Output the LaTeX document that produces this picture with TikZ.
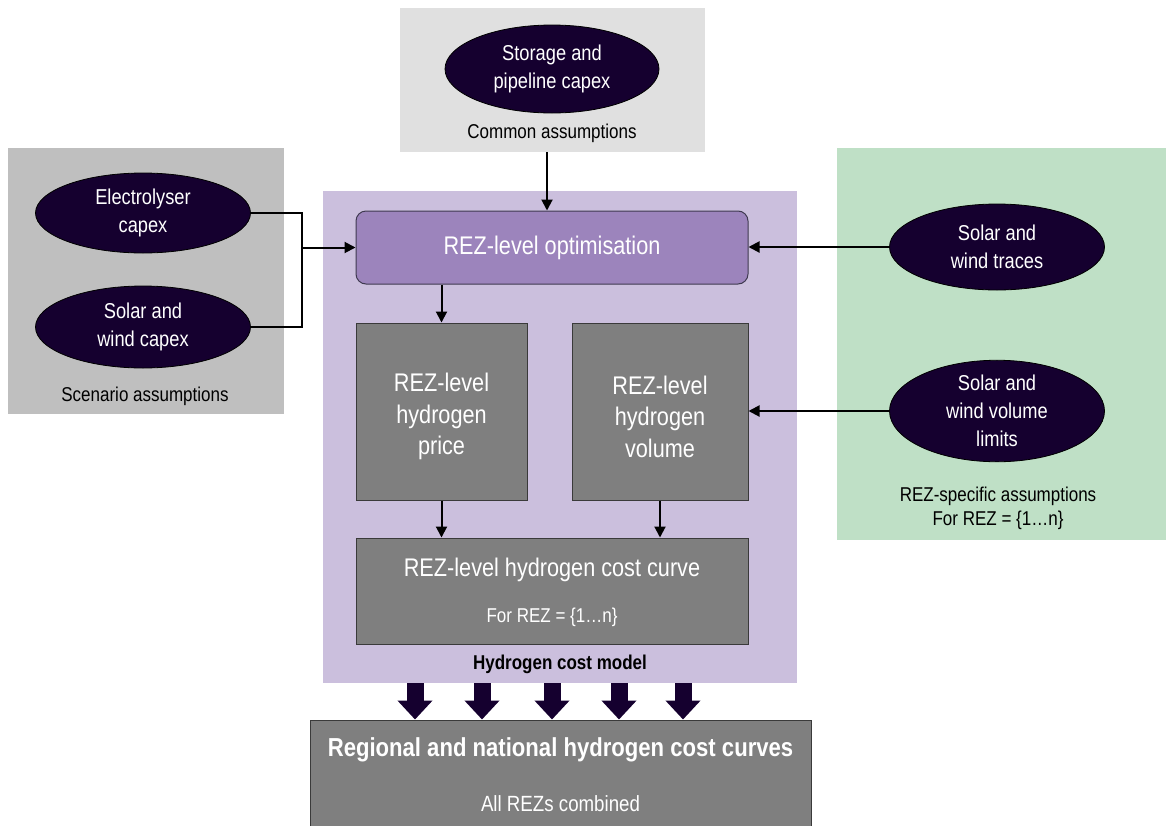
\documentclass[tikz,border=0pt]{standalone}
\usepackage{fontspec}
\setmainfont{Liberation Sans}[FakeStretch=0.85]
\usetikzlibrary{shapes.geometric,arrows.meta}
\definecolor{ellfill}{HTML}{15002F}
\definecolor{optfill}{HTML}{9C84BC}
\definecolor{optdraw}{HTML}{3F3A50}
\definecolor{panelpurple}{HTML}{CBBFDD}
\definecolor{boxgray}{HTML}{7F7F7F}
\definecolor{boxdraw}{HTML}{3A3A3A}
\definecolor{commongray}{HTML}{E0E0E0}
\definecolor{scengray}{HTML}{BFBFBF}
\definecolor{rezgreen}{HTML}{BFE0C6}
\begin{document}
\begin{tikzpicture}[x=1pt,y=-1pt,
  panel/.style={draw=none,inner sep=0pt,outer sep=0pt},
  ell/.style={ellipse,draw=black,line width=0.8pt,fill=ellfill,text=white,align=center,inner sep=0pt,
    font=\fontsize{21.5}{28}\selectfont},
  graybox/.style={draw=boxdraw,line width=1pt,fill=boxgray,inner sep=0pt},
  optbox/.style={draw=optdraw,line width=1pt,fill=optfill,text=white,rounded corners=10pt,inner sep=0pt,
    font=\fontsize{25.5}{31}\selectfont},
  lbl/.style={align=center,inner sep=0pt,font=\fontsize{20}{24}\selectfont},
  wlbl/.style={align=center,inner sep=0pt,text=white},
  conn/.style={draw=black,line width=2pt},
  arr/.style={conn,-{Triangle[width=11pt,length=11pt]}},
  fatarr/.style={draw=ellfill,line width=17pt,-{Triangle[width=34pt,length=19pt]}}
]
\useasboundingbox (0,0) rectangle (1166,825);
\clip (0,0) rectangle (1166,825);

% background panels
\node[panel,fill=commongray,minimum width=305,minimum height=144] (common) at (552.5,80) {};
\node[panel,fill=scengray,minimum width=276,minimum height=266] (scen) at (146,281) {};
\node[panel,fill=rezgreen,minimum width=330,minimum height=392] (rez) at (1002,344) {};
\node[panel,fill=panelpurple,minimum width=474,minimum height=492] (hcm) at (560,437) {};

% ellipses
\node[ell,minimum width=214,minimum height=88] (storage) at (552,69) {Storage and\\pipeline capex};
\node[ell,minimum width=215,minimum height=80] (elec) at (143,213) {Electrolyser\\capex};
\node[ell,minimum width=215,minimum height=82] (solcap) at (143,327) {Solar and\\wind capex};
\node[ell,minimum width=215,minimum height=86] (traces) at (997,247) {Solar and\\wind traces};
\node[ell,minimum width=215,minimum height=100] (limits) at (997,411) {Solar and\\wind volume\\limits};

% labels
\node[lbl] (commonlbl) at (552,133) {Common assumptions};
\node[lbl] (scenlbl) at (145,396) {Scenario assumptions};
\node[lbl] (rezlbl) at (998,508) {REZ-specific assumptions\\For REZ = \{1…n\}};
\node[lbl,font=\fontsize{20}{24}\selectfont\bfseries] (hcmlbl) at (560,664) {Hydrogen cost model};

% model boxes
\node[optbox,minimum width=392,minimum height=73] (opt) at (552,247.5) {\raisebox{-3pt}{REZ-level optimisation}};
\node[graybox,minimum width=171,minimum height=177] (price) at (441.5,411.5) {};
\node[graybox,minimum width=176,minimum height=177] (volume) at (660,411.5) {};
\node[wlbl,font=\fontsize{25.5}{31.5}\selectfont] (pricetxt) at (441.5,416.5) {REZ-level\\hydrogen\\price};
\node[wlbl,font=\fontsize{25.5}{31.5}\selectfont] (volumetxt) at (660,416.5) {REZ-level\\hydrogen\\volume};
\node[graybox,minimum width=392,minimum height=106] (cost) at (552,591) {};
\node[wlbl,font=\fontsize{25.5}{31}\selectfont] (costtitle) at (552,570) {REZ-level hydrogen cost curve};
\node[wlbl,font=\fontsize{20}{24}\selectfont] (costsub) at (552,617) {For REZ = \{1…n\}};

\node[graybox,minimum width=501,minimum height=112] (final) at (560.5,776) {};
\node[wlbl,font=\fontsize{26}{31}\selectfont\bfseries] (finaltitle) at (560.5,750) {Regional and national hydrogen cost curves};
\node[wlbl,font=\fontsize{22}{28}\selectfont] (finalsub) at (560.5,804) {All REZs combined};

% connectors
\coordinate (cx) at (547,0);
\draw[arr] (common.south -| cx) -- (opt.north -| cx);
\coordinate (jn) at (302,247.5);
\draw[conn] (elec.east) -| (jn) |- (solcap.east);
\draw[arr] (jn) -- (opt.west);
\draw[arr] (traces.west) -- (opt.east |- traces.west);
\draw[arr] (limits.west) -- (volume.east |- limits.west);
\draw[arr] (opt.south -| price) -- (price.north);
\draw[arr] (price.south) -- (cost.north -| price);
\draw[arr] (volume.south) -- (cost.north -| volume);

% fat arrows
\foreach \fx/\nm in {415/a,482/b,552/c,619/d,683/e}{
  \coordinate (f\nm) at (\fx,0);
  \draw[fatarr] (hcm.south -| f\nm) -- (final.north -| f\nm);
}
\end{tikzpicture}
\end{document}
